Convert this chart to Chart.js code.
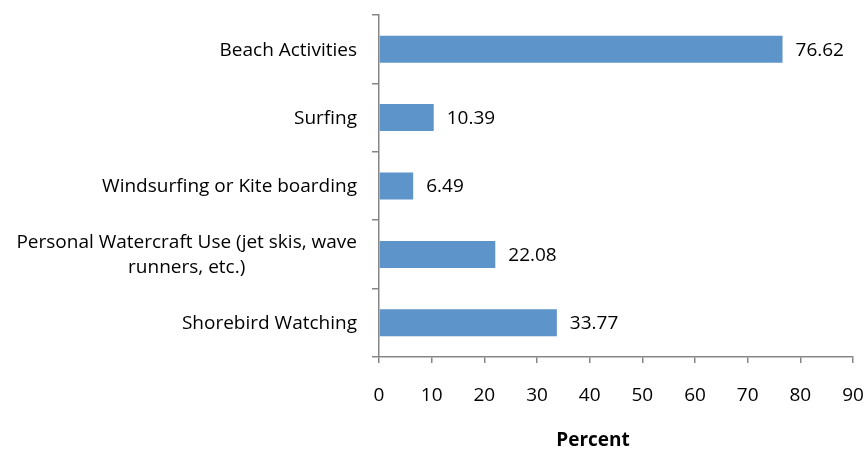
<!DOCTYPE html>
<html>
<head>
<meta charset="utf-8">
<script src="https://cdn.jsdelivr.net/npm/chart.js@4.4.1/dist/chart.umd.min.js"></script>
<style>
  html, body { margin: 0; padding: 0; background: #fff; }
  #wrap { width: 866px; height: 451px; }
</style>
</head>
<body>
<div id="wrap"><canvas id="chartActivities"></canvas></div>
<script>
const categories = [
  "Beach Activities",
  "Surfing",
  "Windsurfing or Kite boarding",
  ["Personal Watercraft Use (jet skis, wave", "runners, etc.)"],
  "Shorebird Watching",
];
const percents = [76.62, 10.39, 6.49, 22.08, 33.77];
const axisTitle = "Percent";

const FONT = "'Open Sans', sans-serif";
const FSIZE = 19;
const AXIS_GREY = "#868686";

// draws the y labels (centred lines, right-aligned block), bar values and axis title
const labelPlugin = {
  id: "labelPlugin",
  afterDraw(chart) {
    const ctx = chart.ctx;
    const area = chart.chartArea;
    const yScale = chart.scales.y;
    ctx.save();
    ctx.fillStyle = "#000";
    ctx.font = FSIZE + "px " + FONT;
    ctx.textBaseline = "middle";
    ctx.textAlign = "center";

    categories.forEach((lab, i) => {
      const lines = Array.isArray(lab) ? lab : [lab];
      const maxW = Math.max(...lines.map((l) => ctx.measureText(l).width));
      const cx = area.left - 22 - maxW / 2;
      const cy = yScale.getPixelForValue(i) + 1;
      lines.forEach((l, j) => {
        ctx.fillText(l, cx, cy + (j - (lines.length - 1) / 2) * 25);
      });
    });

    ctx.textAlign = "left";
    chart.getDatasetMeta(0).data.forEach((bar, i) => {
      ctx.fillText(percents[i].toFixed(2), bar.x + 13, bar.y + 1);
    });

    ctx.font = "bold " + FSIZE + "px " + FONT;
    ctx.textAlign = "center";
    ctx.fillText(axisTitle, 593, 441);
    ctx.restore();
  },
};

const ctxAct = document.getElementById("chartActivities");
new Chart(ctxAct.getContext("2d"), {
  type: "bar",
  data: {
    labels: categories,
    datasets: [
      {
        data: percents,
        backgroundColor: "#5d94c9",
        barPercentage: 0.395,
        categoryPercentage: 1,
      },
    ],
  },
  options: {
    indexAxis: "y",
    responsive: true,
    maintainAspectRatio: false,
    animation: false,
    layout: { padding: { top: 15, right: 13, left: 0, bottom: 0 } },
    plugins: { legend: { display: false }, tooltip: { enabled: false } },
    scales: {
      x: {
        min: 0,
        max: 90,
        ticks: {
          stepSize: 10,
          color: "#000",
          font: { family: FONT, size: FSIZE },
          padding: 21,
          maxRotation: 0,
        },
        grid: {
          drawOnChartArea: false,
          color: AXIS_GREY,
          lineWidth: 1.5,
          tickLength: 6,
        },
        border: { color: AXIS_GREY, width: 1.5 },
        afterFit(scale) {
          scale.height = 94;
          scale.paddingLeft = 0;
          scale.paddingRight = 0;
        },
      },
      y: {
        ticks: { color: "rgba(0,0,0,0)", font: { family: FONT, size: FSIZE } },
        grid: {
          drawOnChartArea: false,
          offset: true,
          color: AXIS_GREY,
          lineWidth: 1.5,
          tickLength: 7,
        },
        border: { color: AXIS_GREY, width: 1.5 },
        afterFit(scale) {
          scale.width = 379;
          scale.paddingTop = 0;
          scale.paddingBottom = 0;
        },
      },
    },
  },
  plugins: [labelPlugin],
});
</script>
</body>
</html>
